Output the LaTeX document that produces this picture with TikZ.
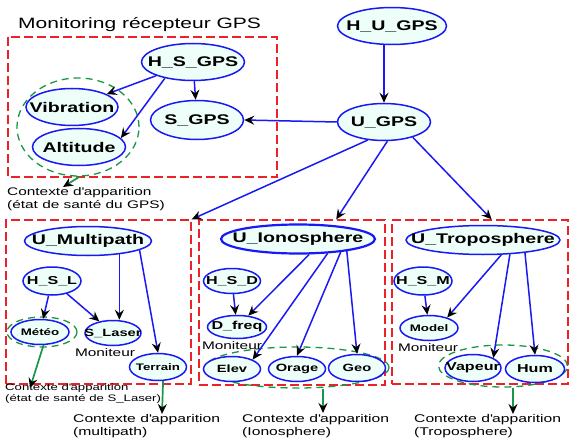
\documentclass[tikz,border=0pt]{standalone}
\usepackage{fontspec}
\setmainfont{Liberation Sans}[FakeStretch=1.4]
\usetikzlibrary{shapes.geometric,arrows.meta}

\definecolor{varblue}{RGB}{25,25,245}
\definecolor{varfill}{RGB}{238,255,250}
\definecolor{grpred}{RGB}{235,35,40}
\definecolor{ctxgreen}{RGB}{25,150,70}

\tikzset{
  % the label is set in a zero-width box so the ellipse keeps its given size
  var/.style={ellipse, draw=varblue, fill=varfill, line width=1.5pt, inner sep=0pt,
    execute at begin node={\hbox to 0pt\bgroup\hss},
    execute at end node={\hss\egroup}},
  sz/.style 2 args={minimum width=#1pt, minimum height=#2pt},
  lbig/.style={font=\fontsize{14}{14}\selectfont\bfseries},
  lmid/.style={font=\fontsize{11.5}{12}\selectfont\bfseries},
  lsmall/.style={font=\fontsize{9.5}{10}\selectfont\bfseries},
  grpbox/.style={draw=grpred, line width=1.3pt, dash pattern=on 9pt off 4pt},
  ctxring/.style={ellipse, draw=ctxgreen, line width=1.3pt, dash pattern=on 7pt off 5pt, inner sep=0pt},
  link/.style={draw=varblue, line width=1.5pt, -{Stealth[black, length=10pt, width=9pt, inset=3.5pt]}},
  ctxlink/.style={draw=ctxgreen, line width=1.7pt, -{Stealth[black, length=10pt, width=9pt, inset=3.5pt]}},
  note/.style={inner sep=0pt, anchor=north west, align=left},
}

\begin{document}
\begin{tikzpicture}[x=1pt, y=-1pt]
\useasboundingbox (0,0) rectangle (570,441);

% group frames
\draw[grpbox] (8,37) rectangle (277,177);
\node[grpbox, inner sep=0pt, minimum width=185pt, minimum height=164pt] (boxM) at (98.5,302) {};
\node[grpbox, inner sep=0pt, minimum width=186pt, minimum height=165pt] (boxI) at (292,302.5) {};
\node[grpbox, inner sep=0pt, minimum width=176pt, minimum height=164pt] (boxT) at (480,302) {};

\node[anchor=west, inner sep=0pt, font=\fontsize{15}{15}\selectfont] (title) at (18,25) {Monitoring récepteur GPS};

% context rings
\node[ctxring, sz={122}{98}] (ctxVA) at (78,127) {};
\node[ctxring, sz={70}{30}] (ctxMe) at (42,332) {};
\node[ctxring, sz={184}{41}] (ctxI) at (297,367.5) {};
\node[ctxring, sz={129}{42}] (ctxT) at (503,366) {};

% receiver monitoring
\node[var, lbig, sz={103}{37}] (hsgps) at (193,62) {H\_S\_GPS};
\node[var, lbig, sz={92}{37}] (vib) at (72,107) {Vibration};
\node[var, lbig, sz={93}{37}] (alt) at (79,147) {Altitude};
\node[var, lbig, sz={93}{39}] (sgps) at (197,120) {S\_GPS};

% top level
\node[var, lbig, sz={109}{37}] (hugps) at (392,26) {H\_U\_GPS};
\node[var, lbig, sz={93}{37}] (ugps) at (384,122) {U\_GPS};

% multipath
\node[var, lbig, sz={127}{29}] (umult) at (88,241) {U\_Multipath};
\node[var, lmid, sz={58}{28}] (hsl) at (52,281) {H\_S\_L};
\node[var, lsmall, sz={58}{25}] (meteo) at (40,332) {Météo};
\node[var, font=\fontsize{10.5}{11}\selectfont\bfseries, sz={56}{25}] (slaser) at (113,333) {S\_Laser};
\node[var, lsmall, sz={57}{27}] (terrain) at (158,367) {Terrain};

% ionosphere
\node[var, lbig, line width=2.2pt, sz={154}{29}] (uiono) at (298,239) {U\_Ionosphere};
\node[var, lmid, sz={57}{25}] (hsd) at (232,281) {H\_S\_D};
\node[var, lmid, sz={59}{23}] (dfreq) at (237,327) {D\_freq};
\node[var, font=\fontsize{10.5}{11}\selectfont\bfseries, sz={57}{25}] (elev) at (232,369) {Elev};
\node[var, font=\fontsize{10.5}{11}\selectfont\bfseries, sz={57}{25}] (orage) at (297,369) {Orage};
\node[var, font=\fontsize{10.5}{11}\selectfont\bfseries, sz={57}{27}] (geo) at (357,368) {Geo};

% troposphere
\node[var, lbig, sz={154}{29}] (utropo) at (483,240) {U\_Troposphere};
\node[var, lmid, sz={58}{28}] (hsm) at (423,281) {H\_S\_M};
\node[var, lsmall, sz={58}{25}] (model) at (429,328) {Model};
\node[var, lmid, sz={56}{27}] (vapeur) at (473,368) {Vapeur};
\node[var, lmid, sz={59}{27}] (hum) at (535,369) {Hum};

% monitor captions
\node[inner sep=0pt, font=\fontsize{11}{11}\selectfont] (monM) at (105,353) {Moniteur};
\node[inner sep=0pt, font=\fontsize{11}{11}\selectfont] (monI) at (232,346) {Moniteur};
\node[inner sep=0pt, font=\fontsize{11}{11}\selectfont] (monT) at (428,348) {Moniteur};

% context captions
\node[note, font=\fontsize{11}{13}\selectfont] (ctxGPS) at (7,187) {Contexte d\textquotesingle apparition\\(état de santé du GPS)};
\node[note, font=\fontsize{9.4}{11}\selectfont] (ctxSL) at (5,383.5) {Contexte d\textquotesingle apparition\\(état de santé de S\_Laser)};
\node[note, font=\fontsize{11.2}{13}\selectfont] (ctxMP) at (73,414) {Contexte d\textquotesingle apparition\\(multipath)};
\node[note, font=\fontsize{11.2}{13}\selectfont] (ctxIO) at (242,414) {Contexte d\textquotesingle apparition\\(Ionosphere)};
\node[note, font=\fontsize{11.2}{13}\selectfont] (ctxTR) at (414,414) {Contexte d\textquotesingle apparition\\(Troposphere)};

% arrow tips of the context links
\coordinate (tipGPS) at (63,187);
\coordinate (tipSL) at (30,388);
\coordinate (tipMP) at (162,414);
\coordinate (tipIO) at (323,413);
\coordinate (tipTR) at (513,414);

% dependencies
\draw[link] (hsgps) -- (vib);
\draw[link] (hsgps.-150) -- (alt.12);
\draw[link] (hsgps) -- (sgps);
\draw[link] (ugps.north |- hugps.south) -- (ugps.north);
\draw[link] (ugps.west) -- (sgps.east);
\draw[link] (ugps.-132) -- (boxM.north east);
\draw[link] (ugps.-80) -- (boxI.62);
\draw[link] (ugps.-28) -- (boxT.82);

\draw[link] (hsl) -- (meteo);
\draw[link] (hsl) -- (slaser);
\draw[link] (umult.-23) -- (umult.-23 |- slaser.north);
\draw[link] (umult.-10) -- (terrain.north);

\draw[link] (hsd) -- (dfreq);
\draw[link] (uiono.-54) -- (dfreq);
\draw[link] (uiono.-26) -- (elev.north east);
\draw[link] (uiono.-17) -- (orage.north);
\draw[link] (uiono.-14) -- (geo.north);

\draw[link] (hsm) -- (model);
\draw[link] (utropo.-39) -- (model.30);
\draw[link] (utropo.-28) -- (vapeur.north east);
\draw[link] (utropo.-17) -- (hum.north);

% context links
\draw[ctxlink] (ctxVA.-88) -- (tipGPS);
\draw[ctxlink] (meteo.-75) -- (tipSL);
\draw[ctxlink] (terrain.-70) -- (tipMP);
\draw[ctxlink] (tipIO |- ctxI.south) -- (tipIO);
\draw[ctxlink] (tipTR |- ctxT.south) -- (tipTR);
\end{tikzpicture}
\end{document}
